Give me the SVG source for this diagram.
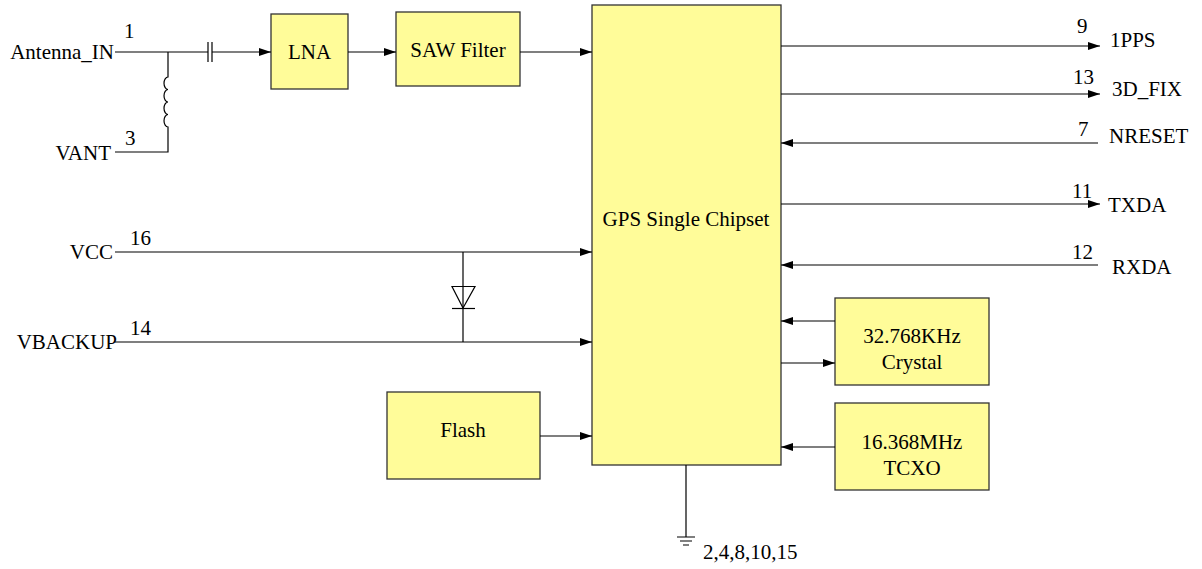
<svg xmlns="http://www.w3.org/2000/svg" width="1202" height="569" viewBox="0 0 1202 569">
<style>
.box{fill:#FFFC99;stroke:#333;stroke-width:1.3}
.ln{stroke:#000;stroke-width:1.2;fill:none}
text{font-family:"Liberation Serif","Tinos","DejaVu Serif",serif;font-size:21px;fill:#000}
.c{text-anchor:middle}
.e{text-anchor:end}
</style>
<defs>
<marker id="ar" markerWidth="12" markerHeight="8" refX="12" refY="4" orient="auto" markerUnits="userSpaceOnUse">
<path d="M0,0 L12,4 L0,8 Z" fill="#000"/>
</marker>
</defs>
<g id="chip"><rect class="box" x="592" y="5" width="189" height="460"/><text class="c" x="686" y="226">GPS Single Chipset</text></g>
<g id="lna"><rect class="box" x="271" y="14" width="77" height="75"/><text class="c" x="309.5" y="59">LNA</text></g>
<g id="saw"><rect class="box" x="396" y="12" width="124" height="74"/><text class="c" x="458" y="57">SAW Filter</text></g>
<g id="flash"><rect class="box" x="387" y="392" width="153" height="87"/><text class="c" x="463" y="437">Flash</text></g>
<g id="crystal"><rect class="box" x="835" y="298" width="154" height="87"/><text class="c" x="912" y="343">32.768KHz</text><text class="c" x="912" y="369">Crystal</text></g>
<g id="tcxo"><rect class="box" x="835" y="403" width="154" height="87"/><text class="c" x="912" y="449">16.368MHz</text><text class="c" x="912" y="475">TCXO</text></g>
<g id="labels">
<text class="e" x="114" y="59">Antenna_IN</text><text x="124" y="38">1</text>
<text class="e" x="111" y="160">VANT</text><text x="125" y="145">3</text>
<text class="e" x="113" y="259">VCC</text><text x="130" y="245">16</text>
<text class="e" x="117" y="349">VBACKUP</text><text x="130" y="335">14</text>
<text x="1077" y="33">9</text><text x="1110" y="47">1PPS</text>
<text x="1073" y="84">13</text><text x="1112" y="96">3D_FIX</text>
<text x="1078" y="136">7</text><text x="1109" y="143">NRESET</text>
<text x="1072" y="198">11</text><text x="1108" y="212">TXDA</text>
<text x="1072" y="259">12</text><text x="1112" y="274">RXDA</text>
<text x="703" y="559">2,4,8,10,15</text>
</g>
<g id="connectors">
<path class="ln" d="M115,52 H208 M212,52 H271" marker-end="url(#ar)"/>
<path class="ln" d="M208,42 V62 M212,42 V62" stroke="#555"/>
<path class="ln" d="M168,52 V77 a4,6.25 0 1 0 0,12.5 a4,6.25 0 1 0 0,12.5 a4,6.25 0 1 0 0,12.5 a4,6.25 0 1 0 0,12.5 V152 H115"/>
<path class="ln" d="M348,52 H396" marker-end="url(#ar)"/>
<path class="ln" d="M520,52 H592" marker-end="url(#ar)"/>
<path class="ln" d="M781,46 H1100" marker-end="url(#ar)"/>
<path class="ln" d="M781,94 H1100" marker-end="url(#ar)"/>
<path class="ln" d="M1098,143 H781" marker-end="url(#ar)"/>
<path class="ln" d="M781,204 H1100" marker-end="url(#ar)"/>
<path class="ln" d="M1098,265 H781" marker-end="url(#ar)"/>
<path class="ln" d="M115,252 H592" stroke="#444" marker-end="url(#ar)"/>
<path class="ln" d="M115,342 H592" marker-end="url(#ar)"/>
<path class="ln" d="M463,252 V342"/>
<path class="ln" d="M452,286.5 H475 L463,308 Z" fill="#fff"/>
<path class="ln" d="M452,308.5 H475"/>
<path class="ln" d="M835,321 H781" marker-end="url(#ar)"/>
<path class="ln" d="M781,363 H835" marker-end="url(#ar)"/>
<path class="ln" d="M835,447 H781" marker-end="url(#ar)"/>
<path class="ln" d="M540,436 H592" marker-end="url(#ar)"/>
<path class="ln" d="M686,465 V537 M677,537 H695 M680,541 H692 M683,545 H689"/>
</g>
</svg>
